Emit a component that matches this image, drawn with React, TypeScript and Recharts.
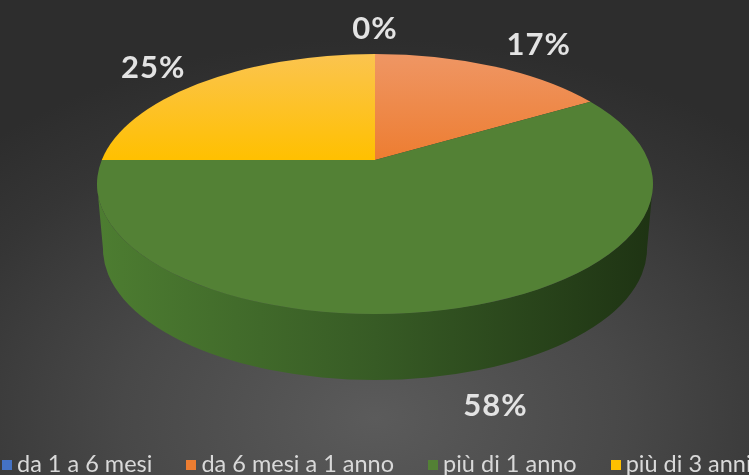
import React from 'react';
import { PieChart, Pie, Cell, Legend } from 'recharts';

const categories = ['da 1 a 6 mesi', 'da 6 mesi a 1 anno', 'più di 1 anno', 'più di 3 anni'];
const responses = [0, 2, 7, 3];
const sliceColors = ['#4472C4', '#ED7D31', '#538135', '#FFC000'];
const sliceHighlights = ['#6a8fd6', '#ef9664', '#538135', '#fbc44f'];
const sideShades = [
  ['#3a63ad', '#2c4c86', '#1f3760'],
  ['#d06a28', '#a9541f', '#7a3c16'],
  ['#4d7d31', '#375b25', '#1e3313'],
  ['#e0a800', '#b88a00', '#8a6700'],
];

const data = categories.map((name, i) => ({ name, value: responses[i] }));

const W = 749;
const H = 475;
const APEX = { x: 375, y: 160 };
const TOP = { cx: 375, cy: 184, rx: 278, ry: 130 };
const DEPTH = 65;
const BOT = { cx: 375, cy: 249, rx: 272, ry: 131 };
const BOT_APEX = { x: 375, y: APEX.y + DEPTH };
const K = TOP.ry / TOP.rx;
const FONT = 'Lato, "Open Sans", sans-serif';

type Ell = { cx: number; cy: number; rx: number; ry: number };
type Pt = { x: number; y: number };

function rayHit(theta: number, a: Pt, e: Ell): Pt {
  const r = (theta * Math.PI) / 180;
  const dx = Math.sin(r);
  const dy = -Math.cos(r) * K;
  const ox = (a.x - e.cx) / e.rx;
  const oy = (a.y - e.cy) / e.ry;
  const ex = dx / e.rx;
  const ey = dy / e.ry;
  const A = ex * ex + ey * ey;
  const B = 2 * (ox * ex + oy * ey);
  const C = ox * ox + oy * oy - 1;
  const t = (-B + Math.sqrt(B * B - 4 * A * C)) / (2 * A);
  return { x: a.x + t * dx, y: a.y + t * dy };
}

function paramOf(p: Pt, e: Ell) {
  let f = Math.atan2((p.y - e.cy) / e.ry, (p.x - e.cx) / e.rx);
  if (f < 0) f += 2 * Math.PI;
  return f;
}

function onE(f: number, e: Ell): Pt {
  return { x: e.cx + e.rx * Math.cos(f), y: e.cy + e.ry * Math.sin(f) };
}

function indexOfPayload(props: any) {
  const name = props?.payload?.name ?? props?.name;
  const i = categories.indexOf(name);
  return i >= 0 ? i : props?.index ?? 0;
}

function SliceShape(props: any) {
  const { startAngle, endAngle } = props;
  const idx = indexOfPayload(props);
  const th1 = 90 - startAngle;
  const th2 = 90 - endAngle;
  const span = th2 - th1;
  if (!(span > 0.01)) return <g />;
  const full = span >= 359.99;
  const p1 = rayHit(th1, APEX, TOP);
  const p2 = rayHit(th2, APEX, TOP);
  const f1 = paramOf(p1, TOP);
  const f2 = paramOf(p2, TOP);
  let df = f2 - f1;
  if (df <= 0) df += 2 * Math.PI;
  let topPath: string;
  if (full) {
    const a = onE(0, TOP);
    const b = onE(Math.PI, TOP);
    topPath = `M${a.x},${a.y} A${TOP.rx},${TOP.ry} 0 0 1 ${b.x},${b.y} A${TOP.rx},${TOP.ry} 0 0 1 ${a.x},${a.y} Z`;
  } else {
    topPath = `M${APEX.x},${APEX.y} L${p1.x},${p1.y} A${TOP.rx},${TOP.ry} 0 ${df > Math.PI ? 1 : 0} 1 ${p2.x},${p2.y} Z`;
  }
  const walls: string[] = [];
  const s0 = f1;
  const e0 = full ? f1 + 2 * Math.PI : f1 + df;
  const intervals = [
    [0, Math.PI],
    [2 * Math.PI, 3 * Math.PI],
  ];
  for (const [a, b] of intervals) {
    const s = Math.max(s0, a);
    const e = Math.min(e0, b);
    if (e - s > 1e-4) {
      const t1 = onE(s, TOP);
      const t2 = onE(e, TOP);
      const b1 = onE(s, BOT);
      const b2 = onE(e, BOT);
      walls.push(
        `M${t1.x},${t1.y} A${TOP.rx},${TOP.ry} 0 0 1 ${t2.x},${t2.y} L${b2.x},${b2.y} A${BOT.rx},${BOT.ry} 0 0 0 ${b1.x},${b1.y} Z`
      );
    }
  }
  return (
    <g>
      {walls.map((d, k) => (
        <path key={k} d={d} fill={`url(#side${idx})`} stroke="none" />
      ))}
      <path d={topPath} fill={`url(#top${idx})`} stroke="none" />
    </g>
  );
}

function renderLabel(props: any) {
  const { midAngle, percent } = props;
  const th = 90 - midAngle;
  let p = rayHit(th, APEX, TOP);
  let c = { x: TOP.cx, y: TOP.cy };
  const f = paramOf(p, TOP);
  let front = false;
  if (Math.sin(f) > 0.05) {
    p = rayHit(th, BOT_APEX, BOT);
    c = { x: BOT.cx, y: BOT.cy };
    front = true;
  }
  let ux = p.x - c.x;
  let uy = p.y - c.y;
  const n = Math.hypot(ux, uy) || 1;
  ux /= n;
  uy /= n;
  const qx = p.x + 30 * ux;
  const qy = p.y + (front ? 24 : 16) * uy;
  const m = Math.max(Math.abs(ux), Math.abs(uy)) || 1;
  const text = `${Math.round((percent || 0) * 100)}%`;
  const w = text.length * 18;
  const h = 22;
  const x = qx + ((ux / m) * w) / 2;
  const y = qy + ((uy / m) * h) / 2;
  return (
    <text
      key={`lbl-${text}-${x}`}
      x={x}
      y={y}
      textAnchor="middle"
      dominantBaseline="central"
      fill="#e3e3e3"
      fontSize={31}
      fontWeight="bold"
      letterSpacing={1}
      fontFamily={FONT}
    >
      {text}
    </text>
  );
}

function LegendContent(props: any) {
  const payload = props.payload || [];
  return (
    <div style={{ display: 'flex', gap: 34, paddingLeft: 2, whiteSpace: 'nowrap', alignItems: 'center', height: 24 }}>
      {categories.map((name, i) => {
        const entry = payload.find((p: any) => p.value === name);
        const color = sliceColors[i] || entry?.color;
        return (
          <div key={name} style={{ display: 'flex', alignItems: 'center', height: 24 }}>
            <span style={{ display: 'inline-block', width: 10, height: 10, background: color, marginRight: 5, marginTop: 3 }} />
            <span style={{ color: '#d9d9d9', fontFamily: FONT, fontSize: 23.5, lineHeight: '24px' }}>{name}</span>
          </div>
        );
      })}
    </div>
  );
}

export default function App() {
  return (
    <div
      style={{
        position: 'fixed',
        left: 0,
        top: 0,
        width: W,
        height: H,
        overflow: 'hidden',
        background: 'radial-gradient(ellipse 75% 80% at 50% 88%, #5b5b5b 0%, #484848 45%, #353535 80%, #2d2d2d 100%)',
      }}
    >
      <PieChart width={W} height={H} margin={{ top: 0, right: 0, bottom: 0, left: 0 }}>
        <defs>
          {sliceColors.map((c, i) => (
            <linearGradient key={`t${i}`} id={`top${i}`} gradientUnits="userSpaceOnUse" x1={0} y1={TOP.cy - TOP.ry} x2={0} y2={APEX.y}>
              <stop offset="0%" stopColor={sliceHighlights[i]} />
              <stop offset="100%" stopColor={c} />
            </linearGradient>
          ))}
          {sideShades.map((s, i) => (
            <linearGradient key={`s${i}`} id={`side${i}`} gradientUnits="userSpaceOnUse" x1={TOP.cx - TOP.rx} y1={0} x2={TOP.cx + TOP.rx} y2={0}>
              <stop offset="0%" stopColor={s[0]} />
              <stop offset="50%" stopColor={s[1]} />
              <stop offset="100%" stopColor={s[2]} />
            </linearGradient>
          ))}
        </defs>
        <Pie
          data={data}
          dataKey="value"
          nameKey="name"
          cx={APEX.x}
          cy={APEX.y}
          outerRadius={120}
          startAngle={90}
          endAngle={-270}
          stroke="none"
          isAnimationActive={false}
          shape={SliceShape}
          label={renderLabel}
          labelLine={false}
        >
          {data.map((d, i) => (
            <Cell key={d.name} fill={sliceColors[i]} />
          ))}
        </Pie>
        <Legend
          content={LegendContent}
          wrapperStyle={{ position: 'absolute', left: 0, top: 451, width: 800, bottom: 'auto' }}
        />
      </PieChart>
    </div>
  );
}
